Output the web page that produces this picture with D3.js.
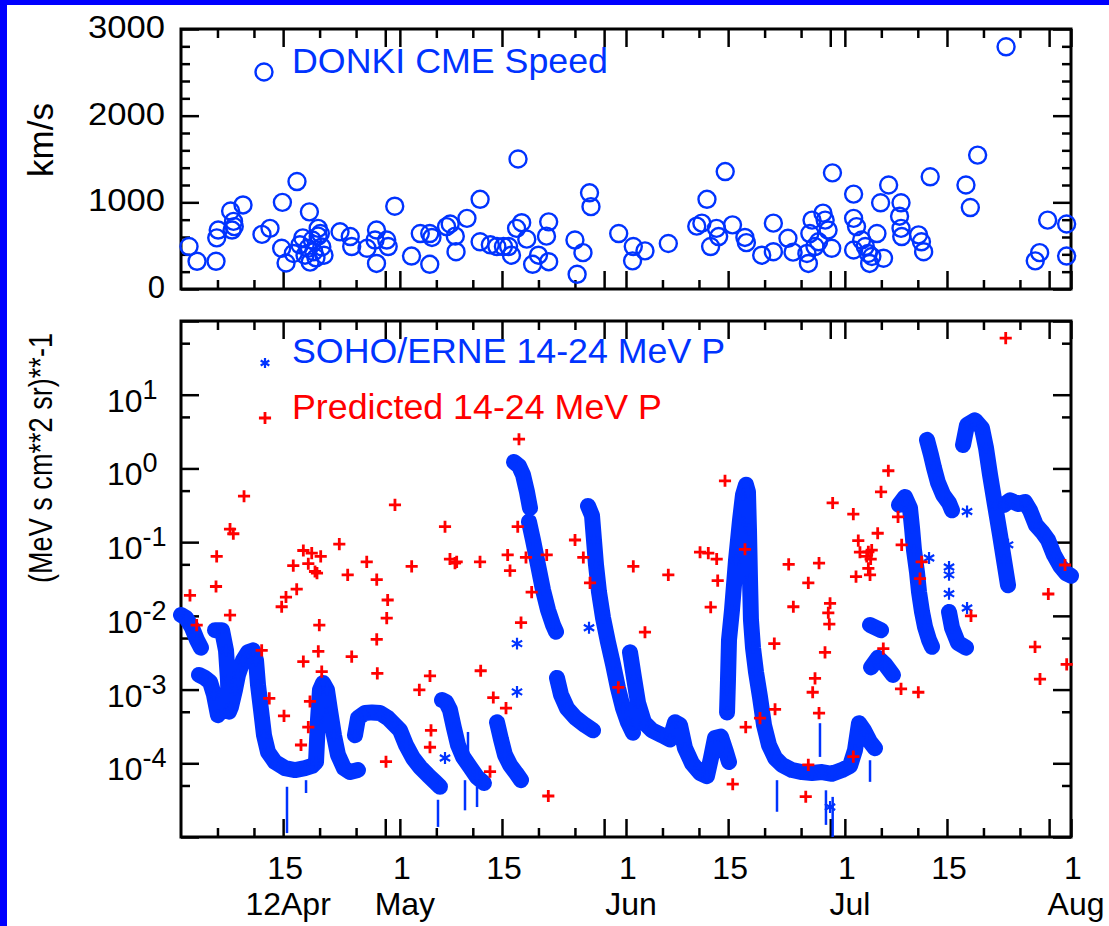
<!DOCTYPE html>
<html>
<head>
<meta charset="utf-8">
<script src="https://cdn.jsdelivr.net/npm/d3@7"></script>
<style>
  body { margin: 0; background: #fff; }
  svg { display: block; }
  text { font-family: "Liberation Sans", Arial, Helvetica, sans-serif; fill: #000; }
</style>
</head>
<body>
<script>

// ---- data (time = day of year 2012) ----

// DONKI CME speed [doy, km/s]
const cmeSpeed = [
  [93.1,490],[94.2,320],[96.8,320],[96.9,590],[97.1,680],[98.8,900],[99.2,780],[99.0,680],[99.3,720],
  [100.5,970],[103.1,630],[104.2,700],[105.9,1000],[105.8,470],[106.4,300],[107.9,1240],[107.4,410],
  [108.3,510],[108.7,590],[109.0,390],[109.4,470],[109.7,310],[110.0,565],[110.2,430],[110.5,360],
  [110.8,610],[111.3,485],[111.6,390],[110.8,700],[109.6,890],[111.1,640],[113.8,660],[115.2,605],
  [115.4,490],[117.5,470],[118.8,680],[118.8,295],[118.6,565],[120.2,565],[120.4,490],[121.3,955],
  [123.6,380],[124.8,640],[126.1,285],[126.1,640],[126.4,595],[128.4,720],[128.9,750],[129.6,610],
  [129.7,430],[131.2,815],[133.0,1035],[133.0,545],[134.4,510],[135.3,490],[136.2,490],[136.9,490],
  [137.3,390],[138.2,1500],[138.0,700],[138.7,765],[139.4,575],[140.2,285],[141.0,390],[142.1,610],
  [142.4,775],[142.4,315],[146.0,565],[146.3,170],[147.1,420],[148.0,1110],[148.2,950],[152.0,640],
  [154.0,490],[153.9,325],[155.6,440],[158.8,525],[162.7,725],[163.4,760],[164.1,1035],[164.6,490],
  [165.4,700],[165.7,605],[166.6,1355],[167.6,740],[169.3,595],[169.5,535],[171.6,390],[173.2,760],
  [173.2,430],[175.2,585],[175.9,425],[177.8,410],[178.0,295],[178.2,640],[178.5,795],[178.9,490],
  [179.4,545],[180.0,875],[180.3,795],[180.7,680],[181.2,470],[181.3,1340],[184.2,1095],[184.2,815],
  [184.6,720],[184.2,450],[185.3,565],[185.8,490],[186.2,410],[186.7,375],[186.4,295],[187.4,640],
  [188.3,355],[187.9,995],[189.0,1200],[190.7,995],[190.5,840],[190.7,700],[190.8,605],[193.1,625],
  [193.5,545],[193.8,430],[194.7,1295],[199.6,1200],[200.2,940],[201.2,1545],[205.1,2795],[209.1,325],
  [209.7,420],[210.8,795],[213.4,750],[213.4,380]
];

// SOHO/ERNE 14-24 MeV proton flux [doy, flux], null = data gap
const erneFlux = [
  [92.0,1.03e-2],[92.69,9.4e-3],[93.51,6.9e-3],[94.19,4.7e-3],[94.74,3.7e-3], null,
  [94.47,1.58e-3],[95.29,1.44e-3],[95.98,1.27e-3],[96.52,8.5e-4],[97.07,4.5e-4], null,
  [96.66,6.4e-3],[97.62,6.4e-3],[98.17,3.4e-3],[98.44,1.35e-3],[98.58,5.0e-4],[98.85,5.8e-4],
  [99.40,9.9e-4],[99.81,1.58e-3],[100.50,2.5e-3],[101.18,3.2e-3],[101.87,3.4e-3],[102.28,2.5e-3],
  [102.56,1.15e-3],[102.97,5.3e-4],[103.38,2.4e-4],[103.93,1.42e-4],[104.89,1.04e-4],[106.26,8.6e-5],
  [107.63,8.1e-5],[109.0,8.6e-5],[109.96,9.2e-5],[110.51,1.04e-4],[110.78,3.9e-4],[111.05,9.9e-4],
  [111.47,1.23e-3],[112.01,9.9e-4],[112.42,5.3e-4],[112.97,2.4e-4],[113.52,1.3e-4],[114.34,8.6e-5],
  [115.17,7.6e-5],[116.26,8.1e-5], null,
  [115.85,2.4e-4],[116.26,4.1e-4],[117.22,4.8e-4],[118.18,4.9e-4],[119.28,4.8e-4],[120.38,4.1e-4],
  [121.33,3.3e-4],[122.02,2.8e-4],[122.84,1.77e-4],[123.80,1.18e-4],[124.76,8.9e-5],[125.86,6.9e-5],
  [126.82,5.6e-5],[127.50,4.8e-5], null,
  [127.78,7.2e-4],[128.33,6.8e-4],[128.87,5.3e-4],[129.42,3.0e-4],[129.97,1.77e-4],[130.66,1.22e-4],
  [131.62,8.9e-5],[132.58,6.5e-5],[133.53,5.4e-5], null,
  [135.32,3.6e-4],[135.87,2.1e-4],[136.41,1.3e-4],[137.10,9.5e-5],[137.92,7.4e-5],[138.61,5.9e-5], null,
  [137.65,1.22],[138.33,1.08],[138.88,0.82],[139.43,0.48],[139.84,0.29], null,
  [139.70,0.19],[140.25,0.107],[140.94,0.049],[141.62,0.0225],[142.31,0.012],[143.0,7.5e-3],[143.41,6.1e-3], null,
  [143.54,1.44e-3],[144.09,8.5e-4],[144.91,5.6e-4],[146.01,4.2e-4],[147.38,3.3e-4],[148.48,2.8e-4], null,
  [147.79,0.31],[148.34,0.23],[148.61,0.107],[148.89,0.049],[149.30,0.021],[149.85,9.4e-3],
  [150.53,4.4e-3],[151.22,2.2e-3],[151.90,1.05e-3],[152.59,5.6e-4],[153.27,3.6e-4],[153.96,2.6e-4], null,
  [153.55,3.2e-3],[154.10,1.44e-3],[154.65,6.6e-4],[155.47,3.6e-4],[156.57,2.8e-4],[157.94,2.4e-4],
  [159.03,2.1e-4],[159.72,3.6e-4],[160.40,3.3e-4],[161.09,1.6e-4],[162.05,1.0e-4],[163.15,7.4e-5],
  [164.10,6.7e-5],[164.65,1.18e-4],[165.20,2.2e-4],[166.02,2.3e-4],[166.71,1.42e-4],[167.12,1.04e-4], null,
  [166.85,4.9e-4],[166.98,1.35e-3],[167.12,4.7e-3],[167.53,0.012],[168.08,0.057],[168.63,0.2],
  [169.04,0.44],[169.45,0.6],[169.72,0.48],[169.86,0.147],[170.0,0.031],[170.13,8.8e-3],[170.41,3.7e-3],
  [170.82,1.73e-3],[171.37,7.9e-4],[171.92,3.3e-4],[172.60,1.77e-4],[173.43,1.18e-4],[174.39,9.5e-5],
  [175.76,8.1e-5],[177.13,7.6e-5],[178.50,7.4e-5],[179.87,7.6e-5],[181.24,7.2e-5],[182.61,8.1e-5],
  [183.71,9.2e-5],[184.39,1.51e-4],[184.94,3.5e-4],[185.63,2.8e-4],[186.45,1.95e-4],[187.13,1.6e-4], null,
  [186.45,7.5e-3],[187.96,6.4e-3], null,
  [186.59,2.0e-3],[187.55,2.7e-3],[188.51,2.2e-3],[189.60,1.58e-3], null,
  [190.42,0.32],[191.25,0.41],[191.93,0.29],[192.21,0.156],[192.48,0.078],[192.89,0.039],[193.17,0.021],
  [193.58,0.0113],[193.99,7.1e-3],[194.54,4.7e-3],[194.95,3.8e-3], null,
  [194.26,2.44],[194.81,1.52],[195.22,1.02],[195.77,0.64],[196.46,0.44],[197.28,0.34],[197.69,0.27], null,
  [197.28,0.0113],[197.69,6.9e-3],[198.51,4.3e-3],[199.61,3.7e-3], null,
  [199.20,2.08],[199.75,3.9],[200.84,4.5],[201.80,3.5],[202.35,1.9],[202.90,0.82],[203.58,0.32],
  [204.27,0.125],[204.82,0.057],[205.37,0.026], null,
  [204.82,0.32],[205.64,0.37],[206.74,0.33],[207.70,0.35],[208.38,0.27],[209.20,0.17],[210.03,0.138],
  [210.85,0.107],[211.67,0.067],[212.49,0.048],[213.31,0.038],[214.0,0.035]
];

// isolated ERNE points [doy, flux]
const erneSingles = [
  [138.06,4.2e-3],[138.06,9.3e-4],[147.93,6.9e-3],[194.54,0.061],[197.28,0.046],[197.28,0.036],
  [197.28,0.020],[199.75,0.26],[199.75,0.0128],[205.37,0.092],[128.19,1.18e-4],[166.85,2.5e-3],
  [166.85,9.9e-4],[180.97,2.55e-5]
];

// ERNE downward spikes [doy, low, high]
const erneSpikes = [
  [106.53,1.13e-5,4.8e-5],[109.14,3.95e-5,5.9e-5],[127.23,1.37e-5,3.2e-5],[130.93,2.3e-5,5.9e-5],
  [131.34,1.22e-4,2.66e-4],[132.58,2.55e-5,4.8e-5],[173.70,2.2e-5,5.9e-5],[179.59,1.22e-4,3.5e-4],
  [180.41,1.46e-5,4.3e-5],[181.33,1.0e-5,3.5e-5],[186.45,5.6e-5,1.1e-4]
];

// predicted 14-24 MeV proton flux [doy, flux]
const predicted = [
  [100.64,0.42],[98.72,0.15],[99.17,0.13],[96.89,0.064],[96.80,0.025],[93.23,0.019],[98.72,0.0102],
  [121.33,0.32],[113.70,0.094],[108.77,0.077],[109.92,0.071],[111.15,0.064],[107.39,0.048],[109.45,0.051],
  [110.37,0.040],[110.64,0.038],[114.85,0.036],[117.46,0.054],[118.83,0.031],[107.86,0.023],[106.39,0.018],
  [105.80,0.0133],[120.33,0.0164],[94.15,0.0075],[103.06,0.0034],[104.10,0.00076],[106.12,0.00044],
  [108.45,0.000177],[108.77,0.0024],[109.45,0.00031],[109.68,0.00069],[110.82,0.0033],[111.29,0.00175],
  [110.96,0.0075],[115.40,0.0028],[118.83,0.0048],[118.91,0.00166],[120.20,0.0093],[120.10,0.000105],
  [124.67,0.00099],[126.13,0.00153],[126.27,0.00028],[126.13,0.000165],[133.08,0.0018],[134.81,0.00078],
  [136.55,0.00056],[134.36,0.000077],[138.61,0.0081],[142.35,0.000036],[151.95,0.00107],[155.60,0.006],
  [164.61,0.0131],[173.33,0.0042],[173.43,0.00054],[169.41,0.00031],[171.37,0.00041],[167.63,0.000052],
  [175.94,0.0133],[180.97,0.0148],[180.73,0.011],[180.87,0.0077],[180.28,0.0032],[178.91,0.00142],
  [178.59,0.00092],[179.46,0.00048],[177.99,0.000095],[177.64,0.0000352],[184.16,0.000123],[188.27,0.0036],
  [190.70,0.00102],[193.07,0.00092],[200.29,0.0100],[209.07,0.0038],[209.75,0.00139],[213.41,0.0022],
  [138.33,2.49],[128.19,0.162],[123.62,0.047],[128.87,0.059],[129.56,0.052],[129.79,0.054],[132.99,0.054],
  [136.78,0.067],[137.10,0.041],[138.16,0.162],[139.29,0.062],[142.13,0.067],[140.07,0.021],[146.01,0.107],
  [147.15,0.062],[148.07,0.028],[154.0,0.047],[158.80,0.036],[166.57,0.68],[163.15,0.073],[164.28,0.071],
  [165.43,0.059],[169.31,0.080],[165.57,0.030],[205.05,58.5],[188.96,0.93],[187.96,0.48],[181.33,0.34],
  [184.16,0.24],[187.50,0.132],[184.84,0.105],[185.07,0.073],[186.22,0.074],[186.68,0.078],[186.54,0.059],
  [186.0,0.064],[186.22,0.044],[186.45,0.036],[184.53,0.034],[190.79,0.092],[175.30,0.05],[179.46,0.052],
  [177.99,0.028],[193.53,0.054],[193.30,0.032],[210.89,0.0198],[213.18,0.049],[190.29,0.22]
];

// axis ticks and labels
const dayTicks = ["2012-04-15","2012-05-01","2012-05-15","2012-06-01","2012-06-15","2012-07-01","2012-07-15","2012-08-01"];
const dayTickLabels = ["15","1","15","1","15","1","15","1"];
const monthTicks = ["2012-04-15","2012-05-01","2012-06-01","2012-07-01","2012-08-01"];
const monthTickLabels = ["12Apr","May","Jun","Jul","Aug"];
const minorTickDays = [6, 11, 20, 25];
const extraMajorDay = 29;
const speedTicks = [0, 1000, 2000, 3000];
const fluxTicks = [1e-5, 1e-4, 1e-3, 1e-2, 1e-1, 1e0, 1e1, 1e2];
const fluxLabelTicks = [1e-4, 1e-3, 1e-2, 1e-1, 1e0, 1e1];

// ---- layout ----
const W = 1109, H = 926;
const DM = { left: 181, right: 1071, top1: 29, bottom1: 289, top2: 321, bottom2: 837 };
const BLUE = "#0033ff", RED = "#ff0000";

const doyDate = d => new Date(Date.UTC(2012, 0, 1) + (d - 1) * 864e5);
const isoDate = s => new Date(s + "T00:00:00Z");

const SVG = d3.select("body").append("svg")
  .attr("width", W)
  .attr("height", H);

// blue page border
SVG.append("rect").attr("width", W).attr("height", H).attr("fill", "#0000ff");
SVG.append("rect").attr("x", 7).attr("y", 5).attr("width", W - 7).attr("height", H - 5).attr("fill", "#fff");

// scales
const xScale = d3.scaleUtc()
  .domain([isoDate("2012-04-01"), isoDate("2012-08-01")])
  .range([DM.left, DM.right]);
const ySpeed = d3.scaleLinear()
  .domain([0, 3000])
  .range([DM.bottom1, DM.top1]);
const yFlux = d3.scaleLog()
  .domain([1e-5, 1e2])
  .range([DM.bottom2, DM.top2]);

const allDays = d3.utcDay.range(isoDate("2012-04-01"), isoDate("2012-08-02"));
const majorDates = dayTicks.map(isoDate).concat(allDays.filter(d => d.getUTCDate() === extraMajorDay));
const minorDates = allDays.filter(d => minorTickDays.includes(d.getUTCDate()));

function styleTicks(g) {
  g.select(".domain").remove();
  g.selectAll("line").attr("stroke", "#000").attr("stroke-width", 2.5);
}

// inward ticks on all four sides of a panel
function frameTicks(yTop, yBottom, yScale, yMajor, yMinor) {
  [[d3.axisBottom, yBottom], [d3.axisTop, yTop]].forEach(([ax, yPos]) => {
    SVG.append("g").attr("transform", `translate(0,${yPos})`)
      .call(ax(xScale).tickValues(majorDates).tickSize(-18).tickFormat("")).call(styleTicks);
    SVG.append("g").attr("transform", `translate(0,${yPos})`)
      .call(ax(xScale).tickValues(minorDates).tickSize(-9).tickFormat("")).call(styleTicks);
  });
  [[d3.axisLeft, DM.left], [d3.axisRight, DM.right]].forEach(([ax, xPos]) => {
    SVG.append("g").attr("transform", `translate(${xPos},0)`)
      .call(ax(yScale).tickValues(yMajor).tickSize(-18).tickFormat("")).call(styleTicks);
    SVG.append("g").attr("transform", `translate(${xPos},0)`)
      .call(ax(yScale).tickValues(yMinor).tickSize(-9).tickFormat("")).call(styleTicks);
  });
  SVG.append("rect")
    .attr("x", DM.left).attr("y", yTop)
    .attr("width", DM.right - DM.left).attr("height", yBottom - yTop)
    .attr("fill", "none").attr("stroke", "#000").attr("stroke-width", 3);
}

// ---- top panel: CME speed ----
frameTicks(DM.top1, DM.bottom1, ySpeed, speedTicks, d3.range(200, 3000, 200).filter(v => v % 1000));

SVG.append("g").selectAll("text")
  .data(speedTicks).enter().append("text")
  .attr("x", 165).attr("y", d => ySpeed(d) + 9)
  .attr("text-anchor", "end")
  .attr("textLength", d => d ? 77 : null)
  .attr("lengthAdjust", "spacingAndGlyphs")
  .style("font-size", "31px")
  .text(d => d);

SVG.append("text")
  .attr("transform", "translate(53,140) rotate(-90)")
  .attr("text-anchor", "middle")
  .style("font-size", "35px")
  .text("km/s");

SVG.append("g").selectAll("circle")
  .data(cmeSpeed).enter().append("circle")
  .attr("cx", d => xScale(doyDate(d[0])))
  .attr("cy", d => ySpeed(d[1]))
  .attr("r", 8.5)
  .attr("fill", "none")
  .attr("stroke", BLUE)
  .attr("stroke-width", 2.4);

// legend
SVG.append("circle").attr("cx", 264).attr("cy", 72).attr("r", 8.5)
  .attr("fill", "none").attr("stroke", BLUE).attr("stroke-width", 2.4);
SVG.append("text").attr("x", 292).attr("y", 73)
  .attr("textLength", 316).attr("lengthAdjust", "spacingAndGlyphs")
  .style("font-size", "35px").style("fill", BLUE)
  .text("DONKI CME Speed");

// ---- bottom panel: proton flux ----
frameTicks(DM.top2, DM.bottom2, yFlux, fluxTicks, fluxTicks.slice(0, -1).map(v => v * 5));

const fluxLabels = SVG.append("g").selectAll("text")
  .data(fluxLabelTicks).enter().append("text")
  .attr("x", 107).attr("y", d => yFlux(d) + 17)
  .style("font-size", "32px");
fluxLabels.append("tspan").text("10");
fluxLabels.append("tspan").attr("dy", -13).style("font-size", "27px")
  .text(d => Math.round(Math.log10(d)));

SVG.append("text")
  .attr("transform", "translate(52,458) rotate(-90)")
  .attr("text-anchor", "middle")
  .attr("textLength", 250).attr("lengthAdjust", "spacingAndGlyphs")
  .style("font-size", "34px")
  .text("(MeV s cm**2 sr)**-1");

// ERNE band
const fluxLine = d3.line()
  .defined(d => d !== null)
  .x(d => xScale(doyDate(d[0])))
  .y(d => yFlux(d[1]));

SVG.append("path")
  .datum(erneFlux)
  .attr("d", fluxLine)
  .attr("fill", "none")
  .attr("stroke", BLUE)
  .attr("stroke-width", 16)
  .attr("stroke-linejoin", "round")
  .attr("stroke-linecap", "round");

const asterisk = d3.symbol(d3.symbolAsterisk, 100);
SVG.append("g").selectAll("path")
  .data(erneFlux.filter(d => d).concat(erneSingles)).enter().append("path")
  .attr("d", asterisk)
  .attr("transform", d => `translate(${xScale(doyDate(d[0]))},${yFlux(d[1])})`)
  .attr("fill", "none").attr("stroke", BLUE).attr("stroke-width", 2.2);

SVG.append("g").selectAll("line")
  .data(erneSpikes).enter().append("line")
  .attr("x1", d => xScale(doyDate(d[0]))).attr("x2", d => xScale(doyDate(d[0])))
  .attr("y1", d => yFlux(d[1])).attr("y2", d => yFlux(d[2]))
  .attr("stroke", BLUE).attr("stroke-width", 2.5);

// predicted points
const plus = d3.symbol(d3.symbolPlus, 50);
SVG.append("g").selectAll("path")
  .data(predicted).enter().append("path")
  .attr("d", plus)
  .attr("transform", d => `translate(${xScale(doyDate(d[0]))},${yFlux(d[1])})`)
  .attr("fill", "none").attr("stroke", RED).attr("stroke-width", 2.8);

// legend
SVG.append("path").attr("d", d3.symbol(d3.symbolAsterisk, 70))
  .attr("transform", "translate(265,363)")
  .attr("fill", "none").attr("stroke", BLUE).attr("stroke-width", 2.2);
SVG.append("text").attr("x", 292).attr("y", 363)
  .attr("textLength", 433).attr("lengthAdjust", "spacingAndGlyphs")
  .style("font-size", "35px").style("fill", BLUE)
  .text("SOHO/ERNE 14-24 MeV P");
SVG.append("path").attr("d", plus)
  .attr("transform", "translate(265,418)")
  .attr("fill", "none").attr("stroke", RED).attr("stroke-width", 2.8);
SVG.append("text").attr("x", 292).attr("y", 419)
  .attr("textLength", 370).attr("lengthAdjust", "spacingAndGlyphs")
  .style("font-size", "35px").style("fill", RED)
  .text("Predicted 14-24 MeV P");

// x labels (two levels)
SVG.append("g").selectAll("text")
  .data(dayTicks).enter().append("text")
  .attr("x", d => xScale(isoDate(d)) + 2).attr("y", 879)
  .attr("text-anchor", "middle")
  .style("font-size", "32px")
  .text((d, i) => dayTickLabels[i]);
SVG.append("g").selectAll("text")
  .data(monthTicks).enter().append("text")
  .attr("x", d => xScale(isoDate(d)) + 5).attr("y", 915)
  .attr("text-anchor", "middle")
  .style("font-size", "32px")
  .text((d, i) => monthTickLabels[i]);

</script>
</body>
</html>
